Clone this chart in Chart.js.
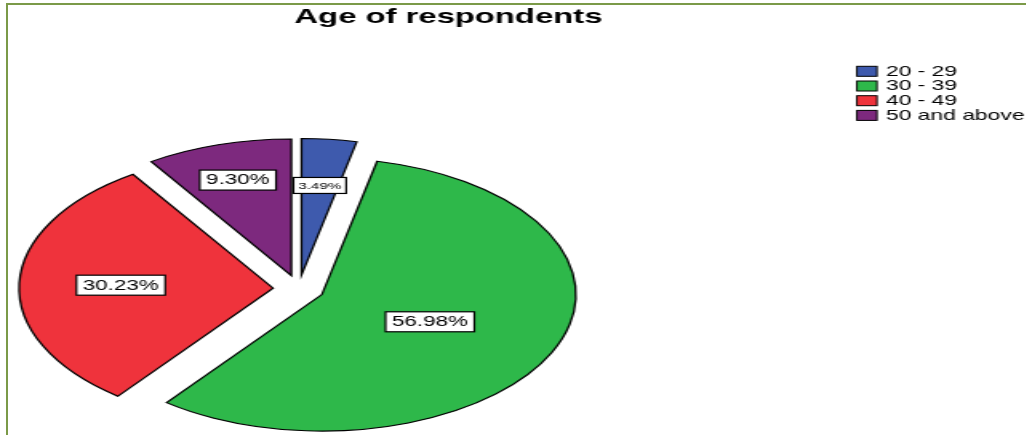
<!DOCTYPE html>
<html>
<head>
<meta charset="utf-8">
<title>Age of respondents</title>
<script src="https://cdn.jsdelivr.net/npm/chart.js@4.4.1/dist/chart.umd.min.js"></script>
<style>
  html, body { margin: 0; padding: 0; background: #fff; overflow: hidden; }
  #wrap { position: relative; width: 1026px; height: 435px; overflow: hidden; }
  #frame {
    position: absolute; left: 6px; top: 3px; right: -10px; bottom: -10px;
    border-top: 2px solid #7b9a48; border-left: 2px solid #7b9a48;
  }
  /* chart is laid out narrow and stretched sideways, like the exported SPSS figure */
  #pie { position: absolute; left: 0; top: 0; transform: scaleX(1.6); transform-origin: 0 0; }
</style>
</head>
<body>
<div id="wrap">
  <div id="frame"></div>
  <canvas id="pie" width="642" height="435"></canvas>
</div>
<script>
// Age groups and share of respondents (%)
const ageGroups = ['20 - 29', '30 - 39', '40 - 49', '50 and above'];
const shares = [3.49, 56.98, 30.23, 9.30];
const sliceColors = ['#3e5aad', '#2eb84a', '#ef333c', '#7d297e'];

// pie geometry in canvas units (before the 1.6x stretch)
const PIE_X = 186.7, PIE_Y = 288.7, PIE_R = 158.75;
const SQUASH = 0.86;     // vertical flattening
const EXPLODE = 16;      // every slice pulled out by the same amount
const labelDepth = [0.66, 0.47, 0.60, 0.73]; // % box position along each slice

const FONT = '"Liberation Sans", Arial, sans-serif';

const explodedPie = {
    id: 'explodedPie',
    afterDatasetUpdate(chart, args) {
        args.meta.data.forEach(arc => {
            const mid = (arc.startAngle + arc.endAngle) / 2;
            arc.x = PIE_X + Math.cos(mid) * EXPLODE;
            arc.y = PIE_Y + Math.sin(mid) * EXPLODE;
        });
    },
    beforeDatasetsDraw(chart) {
        const ctx = chart.ctx;
        ctx.save();
        ctx.translate(0, PIE_Y);
        ctx.scale(1, SQUASH);
        ctx.translate(0, -PIE_Y);
    },
    afterDatasetsDraw(chart) {
        const ctx = chart.ctx;
        ctx.restore();

        // percentage boxes
        const arcs = chart.getDatasetMeta(0).data;
        const values = chart.data.datasets[0].data;
        arcs.forEach((arc, i) => {
            const mid = (arc.startAngle + arc.endAngle) / 2;
            const d = arc.outerRadius * labelDepth[i];
            const x = arc.x + Math.cos(mid) * d;
            const y = PIE_Y + SQUASH * (arc.y - PIE_Y + Math.sin(mid) * d);
            const small = values[i] < 5;
            const text = values[i].toFixed(2) + '%';
            ctx.save();
            ctx.font = (small ? 9.5 : 14) + 'px ' + FONT;
            const w = ctx.measureText(text).width + (small ? 6 : 8);
            const h = small ? 16 : 20;
            ctx.fillStyle = '#fff';
            ctx.fillRect(x - w / 2, y - h / 2, w, h);
            ctx.strokeStyle = '#000';
            ctx.lineWidth = 1.2;
            ctx.strokeRect(x - w / 2, y - h / 2, w, h);
            ctx.fillStyle = '#000';
            ctx.textAlign = 'center';
            ctx.textBaseline = 'middle';
            ctx.fillText(text, x, y + 0.5);
            ctx.restore();
        });
    },
    afterDraw(chart) {
        // legend, top right
        const ctx = chart.ctx;
        const colors = chart.data.datasets[0].backgroundColor;
        ctx.save();
        ctx.font = '14.3px ' + FONT;
        ctx.textBaseline = 'middle';
        chart.data.labels.forEach((label, i) => {
            const cy = 71.3 + i * 14.7;
            ctx.fillStyle = colors[i];
            ctx.fillRect(535.6, cy - 5, 12.5, 10);
            ctx.strokeStyle = '#000';
            ctx.lineWidth = 1;
            ctx.strokeRect(535.6, cy - 5, 12.5, 10);
            ctx.fillStyle = '#000';
            ctx.fillText(label, 553.7, cy + 0.5);
        });
        ctx.restore();
    }
};

new Chart(document.getElementById('pie'), {
    type: 'pie',
    data: {
        labels: ageGroups,
        datasets: [{
            data: shares,
            backgroundColor: sliceColors,
            borderColor: '#000',
            borderWidth: 1.3,
            borderJoinStyle: 'miter'
        }]
    },
    options: {
        responsive: false,
        animation: false,
        events: [],
        radius: PIE_R,
        layout: { padding: { right: 81.4 } },
        plugins: {
            legend: { display: false },
            tooltip: { enabled: false },
            title: {
                display: true,
                text: 'Age of respondents',
                color: '#000',
                font: { family: FONT, size: 20.5, weight: 'bold' },
                padding: { top: 5, bottom: 0 }
            }
        }
    },
    plugins: [explodedPie]
});
</script>
</body>
</html>
